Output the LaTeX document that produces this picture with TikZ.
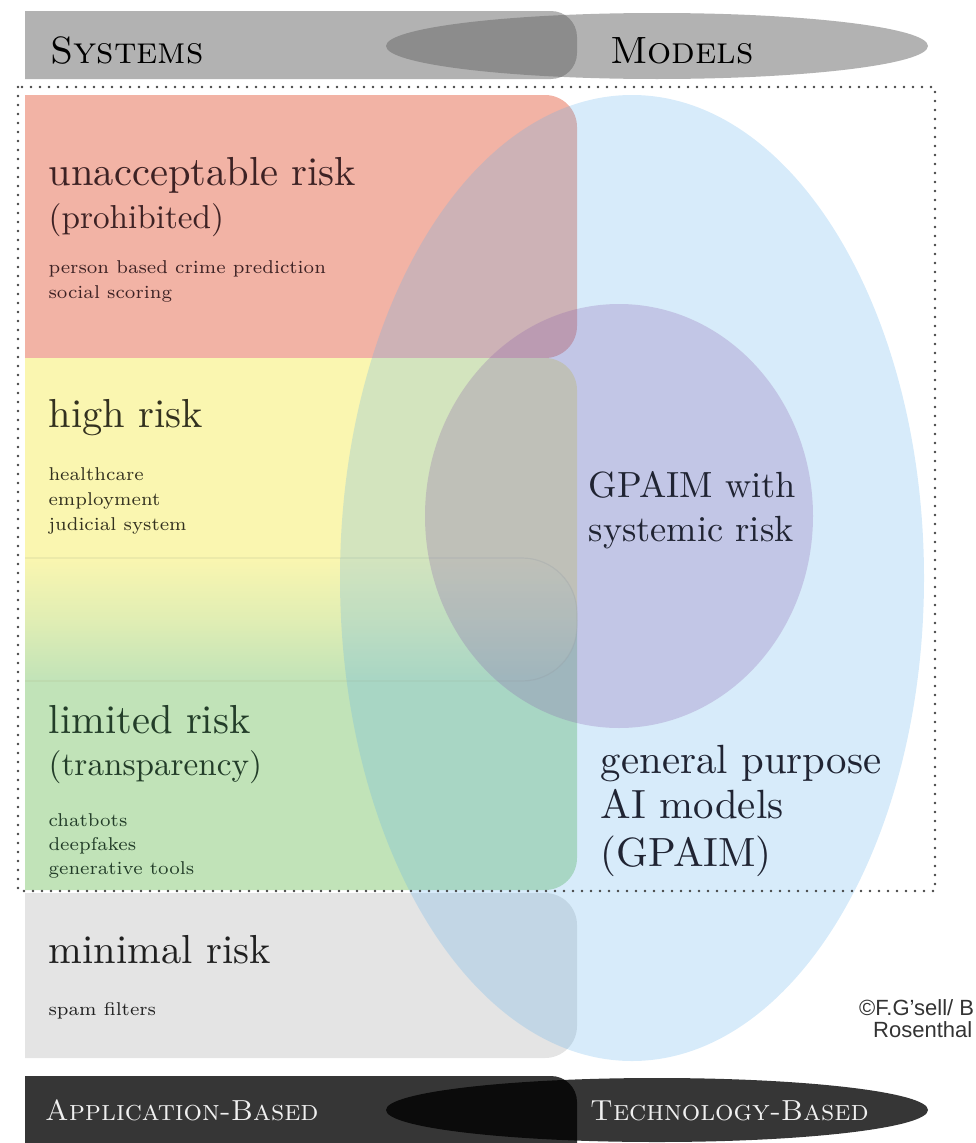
\documentclass[tikz,border=0pt]{standalone}
\usepackage{fontspec}
\newfontfamily\creditfont{Liberation Sans}
\definecolor{redbox}{HTML}{F2B3A5}
\definecolor{yellowbox}{HTML}{FAF6B0}
\definecolor{greenbox}{HTML}{C1E3B8}
\definecolor{graybox}{HTML}{E4E4E4}
\definecolor{gpaimblue}{HTML}{5FB0EA}
\definecolor{systemicpurple}{HTML}{8657AA}
\definecolor{framedots}{HTML}{444444}
\definecolor{redtxt}{HTML}{3D2224}
\definecolor{yellowtxt}{HTML}{33311F}
\definecolor{greentxt}{HTML}{233D29}
\definecolor{graytxt}{HTML}{202020}
\definecolor{gpaimtxt}{HTML}{202433}
\begin{document}
\begin{tikzpicture}[x=1pt,y=-1pt,
  bigtxt/.style={anchor=base west, inner sep=0pt, font=\fontsize{10}{12}\selectfont, scale=4.05},
  midtxt/.style={anchor=base west, inner sep=0pt, font=\fontsize{10}{12}\selectfont, scale=3.32},
  smalltxt/.style={anchor=base west, inner sep=0pt, font=\fontsize{7}{9}\selectfont, scale=2.65},
  bartxt/.style={anchor=base west, inner sep=0pt, font=\fontsize{38}{44}\selectfont\scshape},
  footbartxt/.style={anchor=base west, inner sep=0pt, text=white!94!black, font=\fontsize{29}{34}\selectfont\scshape},
  modeltxt/.style={anchor=base west, inner sep=0pt, text=gpaimtxt, font=\fontsize{10}{12}\selectfont}]
\useasboundingbox (0,0) rectangle (976,1143);
\clip (0,0) rectangle (976,1143);

% header bar: systems vs. models
\begin{scope}
  \clip (25,0) rectangle (976,100);
  \fill[black!60, fill opacity=.5, rounded corners=26] (-40,11) rectangle (577,79);
\end{scope}
\fill[black!60, fill opacity=.5] (657,46) ellipse [x radius=271, y radius=33];

% risk tiers
\begin{scope}
  \clip (25,0) rectangle (976,1143);
  \fill[redbox, rounded corners=32] (-40,95) rectangle (577,358);
  \begin{scope}
    \clip (0,300) rectangle (976,620);
    \fill[yellowbox, rounded corners=32] (-40,358) rectangle (577,700);
  \end{scope}
  \begin{scope}
    \clip (0,620) rectangle (976,950);
    \fill[greenbox, rounded corners=32] (-40,560) rectangle (577,890);
  \end{scope}
  \shade[top color=yellowbox, bottom color=greenbox, middle color=yellowbox!55!greenbox, rounded corners=55] (-40,558) rectangle (577,681);
  \draw[yellowbox!60!greenbox!75!black, draw opacity=.25, line width=1.2, rounded corners=55] (-40,558) rectangle (577,681);
  \fill[graybox, rounded corners=32] (-40,893) rectangle (577,1058);
\end{scope}

% general purpose models and the systemic-risk subset
\fill[gpaimblue, fill opacity=.25] (632,578) ellipse [x radius=292, y radius=483];
\fill[systemicpurple, fill opacity=.25] (619,516) ellipse [x radius=194, y radius=212];

% regulated scope
\draw[framedots, line width=2.8, line cap=round, dash pattern=on 0pt off 9pt] (18,87) rectangle (935,891);

% footer bar: application vs. technology
\begin{scope}
  \clip (25,1000) rectangle (976,1143);
  \fill[black, fill opacity=.79, rounded corners=26] (-40,1076) rectangle (577,1180);
\end{scope}
\fill[black, fill opacity=.79] (657,1110) ellipse [x radius=271, y radius=32];

% labels
\node[bartxt] (systems) at (50,63) {Systems};
\node[bartxt] (models) at (610,63) {Models};

\node[bigtxt, text=redtxt] (unacc) at (48,185) {unacceptable risk};
\node[midtxt, text=redtxt] (prohib) at (48,228) {(prohibited)};
\node[smalltxt, text=redtxt] (crime) at (48,273) {person based crime prediction};
\node[smalltxt, text=redtxt] (scoring) at (48,298) {social scoring};

\node[bigtxt, text=yellowtxt] (high) at (48,427) {high risk};
\node[smalltxt, text=yellowtxt] (health) at (48,480) {healthcare};
\node[smalltxt, text=yellowtxt] (employ) at (48,505) {employment};
\node[smalltxt, text=yellowtxt] (judicial) at (48,530) {judicial system};

\node[bigtxt, text=greentxt] (limited) at (48,733) {limited risk};
\node[midtxt, text=greentxt] (transp) at (48,775) {(transparency)};
\node[smalltxt, text=greentxt] (chatbots) at (48,826) {chatbots};
\node[smalltxt, text=greentxt] (deepfakes) at (48,850) {deepfakes};
\node[smalltxt, text=greentxt] (gentools) at (48,874) {generative tools};

\node[bigtxt, text=graytxt] (minimal) at (48,963) {minimal risk};
\node[smalltxt, text=graytxt] (spam) at (48,1015) {spam filters};

\node[modeltxt, scale=3.64] (gpaimsys1) at (588,497) {GPAIM with};
\node[modeltxt, scale=3.64] (gpaimsys2) at (588,541) {systemic risk};
\node[modeltxt, scale=4.08] (gp1) at (600,773) {general purpose};
\node[modeltxt, scale=4.08] (gp2) at (600,818) {AI models};
\node[modeltxt, scale=4.08] (gp3) at (600,866) {(GPAIM)};

\node[anchor=base west, inner sep=0pt, text=black!80, font=\creditfont\fontsize{22}{26}\selectfont] (credit1) at (859,1015) {©F.G’sell/ B};
\node[anchor=base west, inner sep=0pt, text=black!80, font=\creditfont\fontsize{22}{26}\selectfont] (credit2) at (873,1037) {Rosenthal};

\node[footbartxt] (appl) at (45,1120) {Application-Based};
\node[footbartxt] (tech) at (590,1120) {Technology-Based};
\end{tikzpicture}
\end{document}
